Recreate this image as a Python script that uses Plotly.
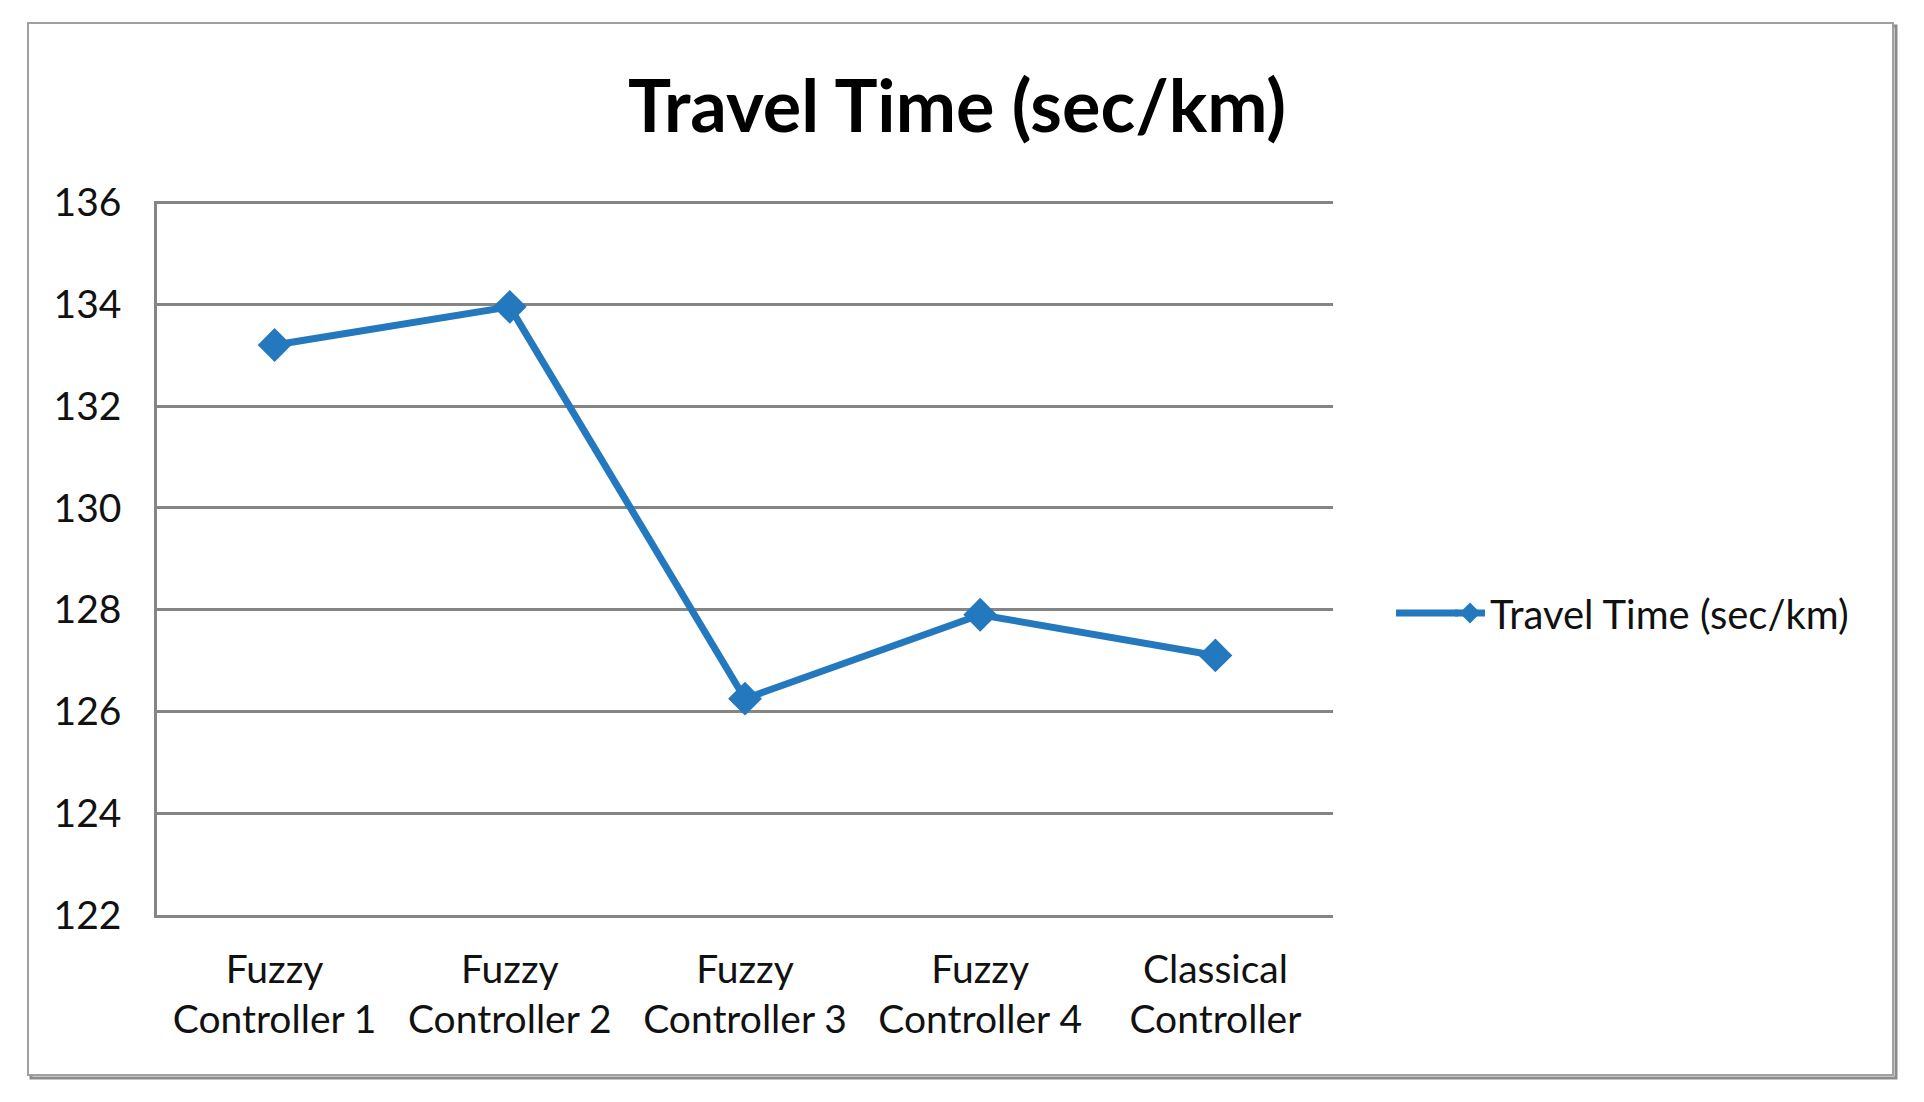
import plotly.graph_objects as go

categories = ["Fuzzy<br>Controller 1", "Fuzzy<br>Controller 2", "Fuzzy<br>Controller 3",
              "Fuzzy<br>Controller 4", "Classical<br>Controller"]
travel_time = [133.2, 133.95, 126.25, 127.9, 127.1]
series_name = "Travel Time (sec/km)"
title_text = "Travel Time (sec/km)"
y_ticks = [122, 124, 126, 128, 130, 132, 134, 136]

OFF = 8  # page body margin
W, H = 1924 - 2 * OFF, 1102 - 2 * OFF
L, R, T, B = 157 - OFF, 1333 - OFF, 201 - OFF, 915 - OFF
FONT = "Lato, Carlito, Calibri, sans-serif"
BLUE = "#2478BE"
GRID = "#858585"

def px(x):
    return (x - OFF - L) / (R - L)

def py(y):
    return (B - (y - OFF)) / (B - T)

fig = go.Figure()
fig.add_trace(go.Scatter(
    x=list(range(len(categories))), y=travel_time, name=series_name,
    mode="lines+markers",
    line=dict(color=BLUE, width=7),
    marker=dict(symbol="diamond", size=26, color=BLUE),
))

LEG_X = 1450  # screen x where the legend item starts
LEG_Y = 613

shapes = [
    dict(type="rect", xref="paper", yref="paper",
         x0=px(31), x1=px(1896), y0=py(1078), y1=py(26),
         line=dict(color="#8c8c8c", width=3), layer="below"),
    dict(type="rect", xref="paper", yref="paper",
         x0=px(28), x1=px(1893), y0=py(1075), y1=py(23),
         line=dict(color="#a0a0a0", width=2), fillcolor="white", layer="below"),
    # extension of the legend line sample to its left
    dict(type="line", xref="paper", yref="paper",
         x0=px(1396), x1=px(LEG_X + 8), y0=py(LEG_Y), y1=py(LEG_Y),
         line=dict(color=BLUE, width=7)),
]

fig.update_layout(
    width=W, height=H,
    margin=dict(l=L, r=W - R, t=T, b=H - B, autoexpand=False),
    paper_bgcolor="white", plot_bgcolor="white",
    font=dict(family=FONT, size=39, color="#111111"),
    title=dict(text="<b>" + title_text + "</b>", x=px(957), xanchor="center",
               xref="paper", y=1 - (107 - OFF) / H, yanchor="middle", yref="container",
               font=dict(family=FONT, size=72, color="black")),
    shapes=shapes,
    showlegend=True,
    legend=dict(x=px(LEG_X), y=py(LEG_Y), xanchor="left", yanchor="middle",
                font=dict(family=FONT, size=40, color="#111111"),
                bgcolor="rgba(0,0,0,0)", itemwidth=30),
    xaxis=dict(
        range=[-0.5, len(categories) - 0.5],
        tickmode="array", tickvals=list(range(len(categories))), ticktext=categories,
        showgrid=False, zeroline=False,
        showline=True, linecolor=GRID, linewidth=2.5,
        ticks="", ticklabelstandoff=18,
        tickfont=dict(family=FONT, size=39, color="#111111"),
    ),
    yaxis=dict(
        range=[122, 136.03], tickmode="array", tickvals=y_ticks,
        ticktext=[str(v) for v in y_ticks],
        showgrid=True, gridcolor=GRID, gridwidth=2.5,
        zeroline=False, showline=True, linecolor=GRID, linewidth=2.5,
        ticks="", ticklabelstandoff=25,
        tickfont=dict(family=FONT, size=39, color="#111111"),
    ),
)

fig.write_html("out.html")
